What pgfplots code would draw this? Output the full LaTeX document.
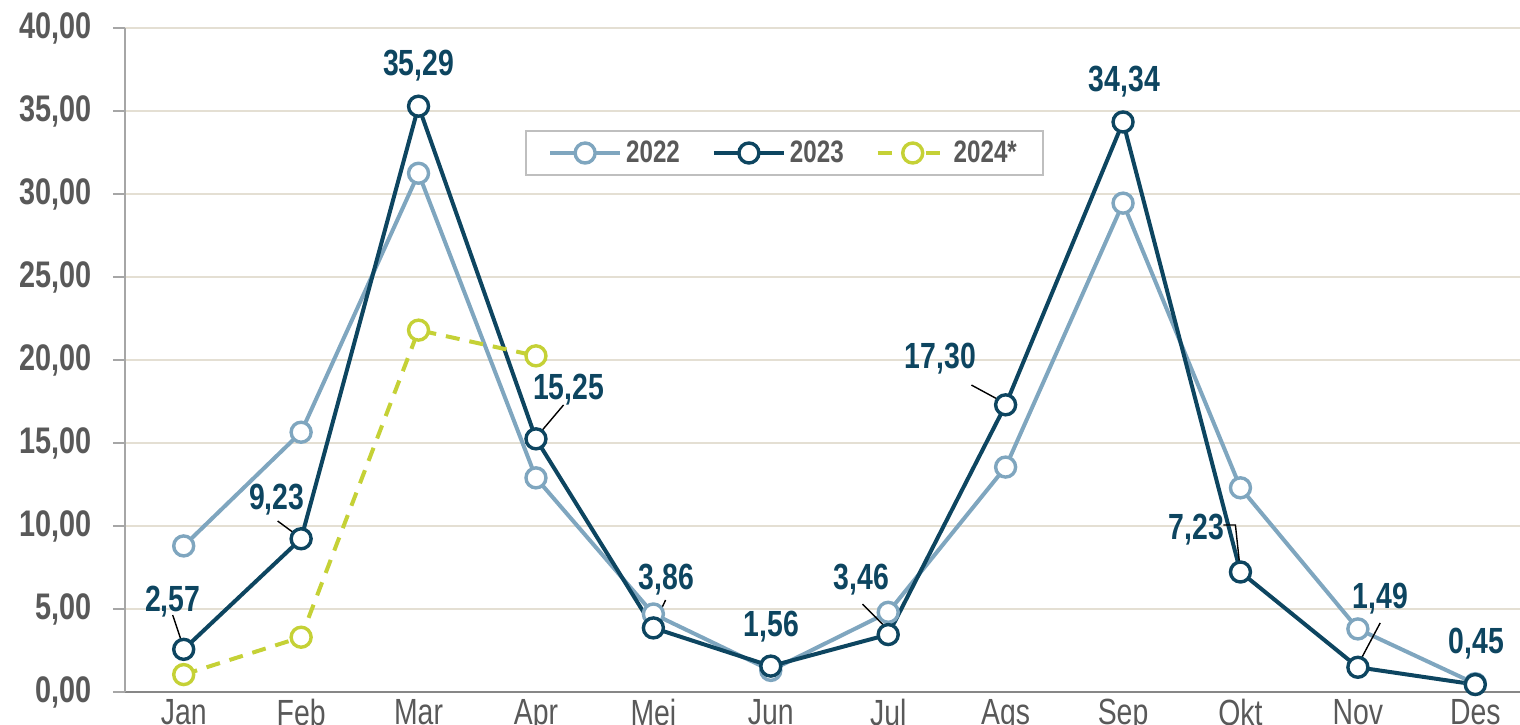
\documentclass[border=0pt]{standalone}
\usepackage{fontspec}
\setmainfont{Liberation Sans}[FakeStretch=0.78]
\usepackage{pgfplots}
\pgfplotsset{compat=1.18}

\definecolor{c22}{HTML}{7FA6BF}
\definecolor{c23}{HTML}{0D4560}
\definecolor{c24}{HTML}{C5D136}
\definecolor{gridc}{HTML}{E4DFD3}
\definecolor{txt}{HTML}{595959}
\definecolor{legbord}{HTML}{BFBFBF}

% month index 0 = Jan ... 11 = Des
\pgfplotstableread{
m v
0 8.80
1 15.65
2 31.25
3 12.90
4 4.70
5 1.30
6 4.80
7 13.55
8 29.45
9 12.30
10 3.80
11 0.50
}\tabA
\pgfplotstableread{
m v
0 2.57
1 9.23
2 35.29
3 15.25
4 3.86
5 1.56
6 3.46
7 17.30
8 34.34
9 7.23
10 1.49
11 0.45
}\tabB
\pgfplotstableread{
m v
0 1.05
1 3.30
2 21.80
3 20.25
}\tabC

\newcommand{\lab}[3]{\node[font=\bfseries\fontsize{18.2}{18}\selectfont, text=c23] at (axis cs:#1,#2) {#3};}

\begin{document}
\begin{tikzpicture}
\begin{axis}[
    scale only axis, width=704.5pt, height=332pt,
    xmin=-0.5, xmax=11.5, ymin=0, ymax=40,
    clip=false,
    axis x line*=bottom, axis y line*=left,
    x axis line style={draw=black!47, line width=1pt, -},
    y axis line style={draw=black!35, line width=1pt, -},
    xtick={0,...,11},
    xticklabels={Jan,Feb,Mar,Apr,Mei,Jun,Jul,Ags,Sep,Okt,Nov,Des},
    xtick style={draw=none},
    ytick={0,5,...,40},
    ytick style={draw=black!35, line width=1pt},
    tick align=outside, major tick length=6pt,
    ymajorgrids, grid style={draw=gridc, line width=1pt},
    x tick label style={font=\fontsize{18.2}{18}\selectfont, text=txt, yshift=6pt},
    y tick label style={font=\bfseries\fontsize{18.5}{18}\selectfont, text=txt, xshift=-7pt,
        /pgf/number format/fixed, /pgf/number format/fixed zerofill,
        /pgf/number format/precision=2, /pgf/number format/use comma,
        /pgf/number format/assume math mode=true},
    legend style={at={(axis cs:5.117,32.47)}, anchor=center, draw=legbord,
        line width=1pt, font=\bfseries\fontsize{15.5}{15}\selectfont, text=txt,
        inner xsep=11pt, inner ysep=3pt,
        /tikz/every even column/.append style={column sep=14pt}},
    legend columns=3,
    legend image code/.code={\draw[mark repeat=2,mark phase=2]
        plot coordinates {(0pt,0pt)(17.5pt,0pt)(35pt,0pt)};},
]
\coordinate (sw) at (rel axis cs:0,0);
\addplot[c22, line width=2pt, mark=*, mark size=5pt,
    mark options={fill=white, draw=c22, line width=1.7pt, solid}] table[x=m,y=v] {\tabA};
\addlegendentry{2022}
\addplot[c23, line width=2pt, mark=*, mark size=5pt,
    mark options={fill=white, draw=c23, line width=1.7pt, solid}] table[x=m,y=v] {\tabB};
\addlegendentry{2023}
\addplot[c24, line width=2pt, dash pattern=on 7pt off 5pt, mark=*, mark size=5pt,
    mark options={fill=white, draw=c24, line width=1.7pt, solid}] table[x=m,y=v] {\tabC};
\addlegendentry{2024*}

% leader lines
\draw[black, line width=0.7pt] (axis cs:-0.094,4.64) -- (axis cs:0,2.65);
\draw[black, line width=0.7pt] (axis cs:0.80,10.30) -- (axis cs:0.996,9.28);
\draw[black, line width=0.7pt] (axis cs:3.235,17.29) -- (axis cs:2.997,15.30);
\draw[black, line width=0.7pt] (axis cs:4.104,5.54) -- (axis cs:4.0,3.98);
\draw[black, line width=0.7pt] (axis cs:5.781,5.30) -- (axis cs:6.003,3.73);
\draw[black, line width=0.7pt] (axis cs:6.709,18.49) -- (axis cs:7.007,17.35);
\draw[black, line width=0.7pt] (axis cs:8.855,10.06) -- (axis cs:8.957,10.06) -- (axis cs:9.0,7.23);
\draw[black, line width=0.7pt] (axis cs:10.19,4.16) -- (axis cs:10.0,1.63);

% data labels
\lab{-0.094}{5.45}{2,57}
\lab{0.792}{11.6}{9,23}
\lab{2.0}{37.75}{35,29}
\lab{3.278}{18.2}{15,25}
\lab{4.112}{6.78}{3,86}
\lab{5.006}{3.95}{1,56}
\lab{5.773}{6.78}{3,46}
\lab{6.445}{20.08}{17,30}
\lab{8.012}{36.75}{34,34}
\lab{8.625}{9.8}{7,23}
\lab{10.19}{5.62}{1,49}
\lab{11.01}{2.92}{0,45}
\end{axis}
\pgfresetboundingbox
\path[use as bounding box] ([shift={(-62.5pt,-16pt)}]sw) rectangle ([shift={(697.5pt,346pt)}]sw);
\end{tikzpicture}
\end{document}
